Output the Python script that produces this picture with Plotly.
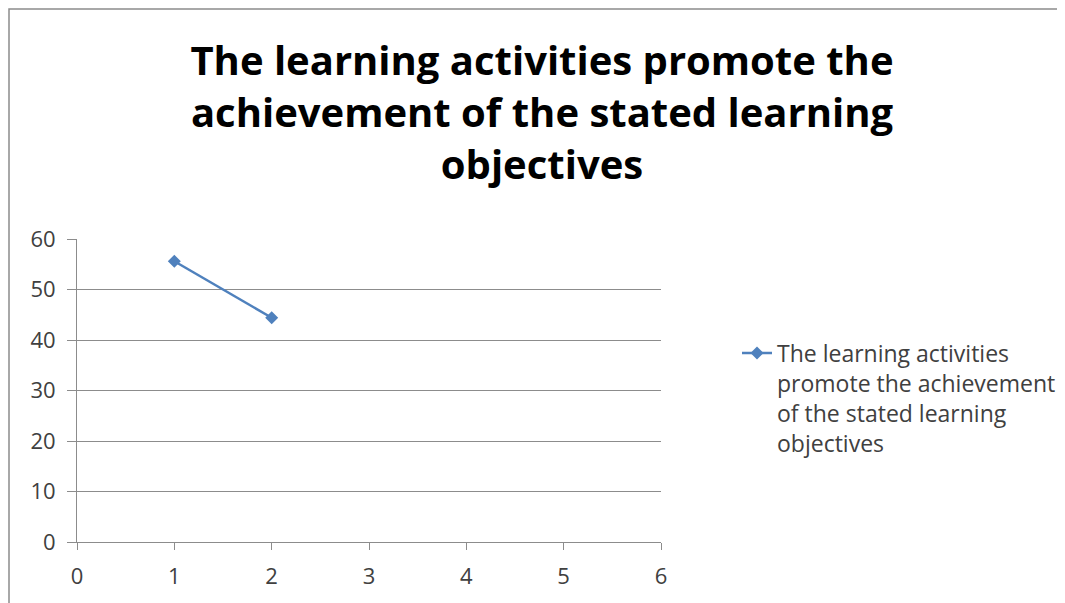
import plotly.graph_objects as go

x_vals = [1, 2]
y_vals = [55.6, 44.4]
series_name = "The learning activities<br>promote the achievement<br>of the stated learning<br>objectives"
title_text = "The learning activities promote the<br>achievement of the stated learning<br>objectives"
x_ticks = [0, 1, 2, 3, 4, 5, 6]
y_ticks = [0, 10, 20, 30, 40, 50, 60]

# page has an 8px body margin, so the figure is drawn 8px smaller and shifted
W, H = 1057, 595
L, R, T, B = 69, 653, 231, 534
PW, PH = R - L, B - T

fig = go.Figure()
fig.add_trace(go.Scatter(
    x=x_vals, y=y_vals, mode="lines+markers", name=series_name,
    line=dict(color="#4F81BD", width=2.5),
    marker=dict(symbol="diamond", size=10, color="#4F81BD"),
    showlegend=True,
))

fig.update_layout(
    width=W, height=H,
    margin=dict(l=L, r=W - R, t=T, b=H - B, autoexpand=False),
    paper_bgcolor="white", plot_bgcolor="white",
    font=dict(family="Open Sans", color="#404040"),
    title=dict(text=title_text, x=534 / W, xanchor="center", xref="container",
               y=1 - 67 / H, yanchor="bottom", yref="container",
               font=dict(family="Open Sans", size=40, color="#000000", weight="bold")),
    xaxis=dict(range=[0, 6], tickvals=x_ticks, showgrid=False, zeroline=False,
               showline=True, linecolor="#8c8c8c", linewidth=1,
               ticks="outside", ticklen=7, tickcolor="#8c8c8c",
               ticklabelstandoff=8,
               tickfont=dict(size=22, color="#404040"), fixedrange=True),
    yaxis=dict(range=[0, 60], tickvals=y_ticks, showgrid=True, gridcolor="#8c8c8c",
               gridwidth=1, zeroline=False, showline=True, linecolor="#8c8c8c",
               ticks="outside", ticklen=9, tickcolor="#8c8c8c",
               ticklabelstandoff=7,
               tickfont=dict(size=22, color="#404040"), fixedrange=True),
    legend=dict(x=(729 - L) / PW, xanchor="left", y=(B - 390) / PH, yanchor="middle",
                valign="top",
                font=dict(family="Open Sans", size=23, color="#404040"),
                bgcolor="rgba(0,0,0,0)"),
    shapes=[dict(type="rect", xref="paper", yref="paper",
                 x0=(1 - L) / PW, x1=1.0 + 420 / PW, y0=-0.5, y1=(B - 1) / PH,
                 line=dict(color="#8c8c8c", width=1.5), layer="below")],
)
fig.write_html("out.html")
